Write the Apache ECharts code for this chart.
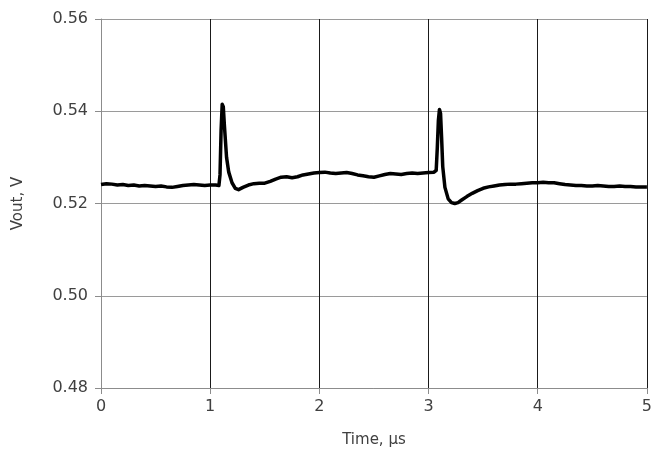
<!DOCTYPE html>
<html>
<head>
<meta charset="utf-8">
<script src="https://cdn.jsdelivr.net/npm/echarts@6/dist/echarts.min.js"></script>
<style>html,body{margin:0;padding:0;background:#fff}#c{width:655px;height:460px}</style>
</head>
<body>
<div id="c"></div>
<script>
const timeUs = [0.00,0.05,0.10,0.15,0.20,0.25,0.30,0.35,0.40,0.45,0.50,0.55,0.60,0.65,0.70,0.75,0.80,0.85,0.90,0.95,1.00,1.05,1.08,1.09,1.10,1.11,1.12,1.13,1.15,1.17,1.20,1.23,1.26,1.30,1.35,1.40,1.45,1.50,1.55,1.60,1.65,1.70,1.75,1.80,1.85,1.90,1.95,2.00,2.05,2.10,2.15,2.20,2.25,2.30,2.35,2.40,2.45,2.50,2.55,2.60,2.65,2.70,2.75,2.80,2.85,2.90,2.95,3.00,3.05,3.07,3.08,3.09,3.10,3.11,3.12,3.13,3.15,3.18,3.21,3.24,3.27,3.30,3.35,3.40,3.45,3.50,3.55,3.60,3.65,3.70,3.75,3.80,3.85,3.90,3.95,4.00,4.05,4.10,4.15,4.20,4.25,4.30,4.35,4.40,4.45,4.50,4.55,4.60,4.65,4.70,4.75,4.80,4.85,4.90,4.95,5.00];
const vout = [0.5241,0.5243,0.5242,0.5240,0.5241,0.5239,0.5240,0.5238,0.5239,0.5238,0.5237,0.5238,0.5236,0.5235,0.5237,0.5239,0.5240,0.5241,0.5240,0.5239,0.5240,0.5240,0.5239,0.5262,0.5360,0.5415,0.5410,0.5370,0.5300,0.5268,0.5245,0.5233,0.5230,0.5235,0.5240,0.5243,0.5244,0.5244,0.5248,0.5253,0.5257,0.5258,0.5256,0.5258,0.5262,0.5264,0.5266,0.5267,0.5268,0.5266,0.5265,0.5266,0.5267,0.5265,0.5262,0.5260,0.5258,0.5257,0.5260,0.5263,0.5265,0.5264,0.5263,0.5265,0.5266,0.5265,0.5266,0.5267,0.5268,0.5272,0.5320,0.5380,0.5404,0.5395,0.5340,0.5280,0.5235,0.5210,0.5202,0.5200,0.5202,0.5207,0.5215,0.5222,0.5228,0.5233,0.5236,0.5238,0.5240,0.5241,0.5242,0.5242,0.5243,0.5244,0.5245,0.5245,0.5246,0.5245,0.5245,0.5243,0.5241,0.5240,0.5239,0.5239,0.5238,0.5238,0.5239,0.5238,0.5237,0.5237,0.5238,0.5237,0.5237,0.5236,0.5236,0.5236];
const xTicks = [0,1,2,3,4,5];
const yTicks = [0.48,0.50,0.52,0.54,0.56];

const chart = echarts.init(document.getElementById('c'), null, {renderer:'canvas'});
const font = 'DejaVu Sans, Verdana, sans-serif';
chart.setOption({
  animation:false,
  grid:{left:101,right:5,top:19,bottom:72},
  xAxis:{
    type:'value', min:xTicks[0], max:xTicks[xTicks.length-1], interval:1,
    name:'Time, \u00b5s', nameLocation:'middle', nameGap:45,
    nameTextStyle:{fontFamily:font,fontSize:15,color:'#404040'},
    axisLine:{show:true,lineStyle:{color:'#8c8c8c',width:1}},
    axisTick:{show:true,inside:false,length:6,lineStyle:{color:'#8c8c8c'}},
    axisLabel:{margin:11,fontFamily:font,fontSize:16,color:'#404040'},
    splitLine:{show:true,showMinLine:false,lineStyle:{color:'#1a1a1a',width:1}}
  },
  yAxis:{
    type:'value', min:yTicks[0], max:yTicks[yTicks.length-1], interval:0.02,
    name:'Vout, V', nameLocation:'middle', nameGap:75, nameRotate:90,
    nameTextStyle:{fontFamily:font,fontSize:15,color:'#404040'},
    axisLine:{show:true,lineStyle:{color:'#8c8c8c',width:1}},
    axisTick:{show:true,inside:false,length:6,lineStyle:{color:'#8c8c8c'}},
    axisLabel:{margin:13,fontFamily:font,fontSize:16,color:'#404040',formatter:v=>v.toFixed(2)},
    splitLine:{show:true,showMinLine:false,lineStyle:{color:'#9a9a9a',width:1}}
  },
  series:[{
    type:'line', data:timeUs.map((t,i)=>[t,vout[i]]),
    showSymbol:false, smooth:false,
    lineStyle:{color:'#000',width:3.5,join:'round'}
  }]
});
</script>
</body>
</html>
